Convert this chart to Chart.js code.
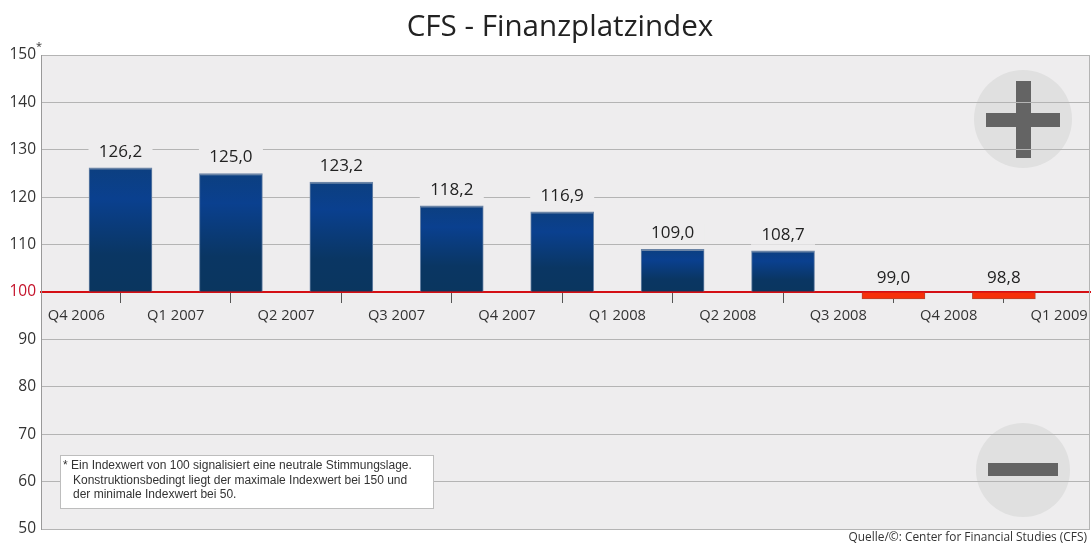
<!DOCTYPE html>
<html>
<head>
<meta charset="utf-8">
<title>CFS - Finanzplatzindex</title>
<script src="https://cdn.jsdelivr.net/npm/chart.js@4/dist/chart.umd.min.js"></script>
<style>
    html, body { margin: 0; padding: 0; background: #fff; }
    canvas { display: block; }
</style>
</head>
<body>
<canvas id="indexChart" width="1091" height="545"></canvas>
<script>
// Chart data
const quarters = ['Q4 2006', 'Q1 2007', 'Q2 2007', 'Q3 2007', 'Q4 2007', 'Q1 2008', 'Q2 2008', 'Q3 2008', 'Q4 2008', 'Q1 2009'];
const values = [126.2, 125.0, 123.2, 118.2, 116.9, 109.0, 108.7, 99.0, 98.8];
const neutralValue = 100;
const yMin = 50;
const yMax = 150;
const yStep = 10;

const titleText = 'CFS - Finanzplatzindex';
const noteLines = [
    '* Ein Indexwert von 100 signalisiert eine neutrale Stimmungslage.',
    'Konstruktionsbedingt liegt der maximale Indexwert bei 150 und',
    'der minimale Indexwert bei 50.'
];
const sourceText = 'Quelle/©: Center for Financial Studies (CFS)';

const plotBg = '#eeedee';
const mainFont = '"Open Sans", sans-serif';

// Background, plus and minus badges, drawn under the grid
const backdropPlugin = {
    id: 'backdrop',
    beforeDraw(chart) {
        const { ctx, chartArea: a } = chart;
        ctx.save();
        ctx.fillStyle = plotBg;
        ctx.fillRect(a.left, a.top, a.right - a.left, a.bottom - a.top);

        ctx.fillStyle = '#e0e0e0';
        ctx.beginPath();
        ctx.arc(1023, 119, 49, 0, Math.PI * 2);
        ctx.fill();
        ctx.beginPath();
        ctx.arc(1023, 470, 47, 0, Math.PI * 2);
        ctx.fill();

        ctx.fillStyle = '#646464';
        ctx.fillRect(1016, 81, 15, 77);
        ctx.fillRect(986, 113, 74, 14);
        ctx.fillRect(988, 463, 70, 13);
        ctx.restore();
    }
};

// Title, value labels, footnote box and source line
const annotationPlugin = {
    id: 'annotations',
    afterDatasetsDraw(chart) {
        const { ctx, chartArea: a, scales } = chart;
        const bars = chart.getDatasetMeta(0).data;
        ctx.save();

        // Title sits a bit left of the plot centre
        ctx.textAlign = 'center';
        ctx.textBaseline = 'middle';
        ctx.fillStyle = '#222';
        ctx.font = '29.6px ' + mainFont;
        ctx.fillText(titleText, 560, 28);

        // Right edge of the plot
        ctx.strokeStyle = '#b4b4b4';
        ctx.lineWidth = 1;
        ctx.beginPath();
        ctx.moveTo(a.right - 0.5, a.top);
        ctx.lineTo(a.right - 0.5, a.bottom);
        ctx.stroke();

        // Value labels cut the grid line behind them
        ctx.font = '17px ' + mainFont;
        values.forEach((value, i) => {
            const bar = bars[i];
            const labelY = value >= neutralValue ? bar.y - 16 : scales.y.getPixelForValue(neutralValue) - 14;
            ctx.fillStyle = plotBg;
            ctx.fillRect(bar.x - 32, labelY - 10, 64, 20);
            ctx.fillStyle = '#222';
            ctx.fillText(value.toFixed(1).replace('.', ','), bar.x, labelY);
        });

        // Footnote star next to the top tick
        ctx.fillStyle = '#333';
        ctx.font = '11px ' + mainFont;
        ctx.textAlign = 'left';
        ctx.fillText('*', 36, 47);

        // Footnote box
        ctx.fillStyle = '#fff';
        ctx.strokeStyle = '#bdbdbd';
        ctx.fillRect(60, 455, 374, 54);
        ctx.strokeRect(60.5, 455.5, 373, 53);
        ctx.fillStyle = '#333';
        ctx.font = '12px "Liberation Sans", sans-serif';
        noteLines.forEach((line, i) => {
            ctx.fillText(line, i === 0 ? 63 : 73, 466 + i * 14.5);
        });

        // Source
        ctx.textAlign = 'right';
        ctx.fillStyle = '#333';
        ctx.font = '11.9px ' + mainFont;
        ctx.fillText(sourceText, 1087, 538);
        ctx.restore();
    }
};

function barFill(context) {
    const value = values[context.dataIndex];
    if (value < neutralValue) return '#f6300a';
    // Scales have no pixels yet on the first pass
    if (!context.chart.chartArea) return '#0a408f';
    const yScale = context.chart.scales.y;
    const top = yScale.getPixelForValue(value);
    const bottom = yScale.getPixelForValue(neutralValue);
    if (!isFinite(top) || !isFinite(bottom)) return '#0a408f';
    const gradient = context.chart.ctx.createLinearGradient(0, top, 0, bottom);
    gradient.addColorStop(0, '#0c3f80');
    gradient.addColorStop(0.25, '#0a408f');
    gradient.addColorStop(0.7, '#0a3663');
    gradient.addColorStop(1, '#0a365f');
    return gradient;
}

// Labels may overhang the plot, keep both x scales on its full width
function noSidePadding(scale) {
    scale.paddingLeft = 0;
    scale.paddingRight = 0;
}

new Chart(document.getElementById('indexChart'), {
    type: 'bar',
    data: {
        datasets: [{
            data: values.map((value, i) => ({ x: i, y: value })),
            base: neutralValue,
            barThickness: 63,
            minBarLength: 7,
            backgroundColor: barFill,
            borderColor: context => values[context.dataIndex] < neutralValue ? '#b8452c' : '#6a84a6',
            borderWidth: context => values[context.dataIndex] < neutralValue
                ? { top: 0, left: 1, right: 1, bottom: 1 }
                : { top: 2, left: 1, right: 1, bottom: 0 },
            borderSkipped: false
        }]
    },
    options: {
        responsive: false,
        animation: false,
        layout: { padding: { left: 0, right: 1, top: 55, bottom: 16 } },
        plugins: {
            legend: { display: false },
            tooltip: { enabled: false },
            title: { display: false }
        },
        scales: {
            x: {
                type: 'linear',
                position: { y: neutralValue },
                min: -0.72,
                max: 8.78,
                offset: false,
                z: 1,
                afterBuildTicks: scale => { scale.ticks = values.map((_, i) => ({ value: i })); },
                afterFit: noSidePadding,
                border: { color: '#d40f14', width: 2 },
                grid: { offset: false, drawOnChartArea: false, drawTicks: true, tickLength: 10, color: '#555' },
                ticks: { display: false }
            },
            xLabels: {
                type: 'linear',
                axis: 'x',
                position: { y: neutralValue },
                min: -0.72,
                max: 8.78,
                offset: false,
                afterBuildTicks: scale => { scale.ticks = quarters.map((_, i) => ({ value: Math.max(i - 0.5, -0.4) })); },
                afterFit: noSidePadding,
                border: { display: false },
                grid: { display: false, drawTicks: false },
                ticks: {
                    autoSkip: false,
                    maxRotation: 0,
                    padding: 15,
                    color: '#333',
                    font: { family: mainFont, size: 14.7 },
                    callback: (value, index) => quarters[index]
                }
            },
            y: {
                min: yMin,
                max: yMax,
                afterFit: scale => { scale.width = 41; },
                border: { color: '#999', width: 1 },
                grid: {
                    drawTicks: false,
                    color: context => context.tick.value === neutralValue ? '#d40f14' : '#b4b4b4'
                },
                ticks: {
                    stepSize: yStep,
                    padding: 5,
                    color: context => context.tick.value === neutralValue ? '#c4122a' : '#333',
                    font: { family: mainFont, size: 15.5 }
                }
            }
        }
    },
    plugins: [backdropPlugin, annotationPlugin]
});
</script>
</body>
</html>
